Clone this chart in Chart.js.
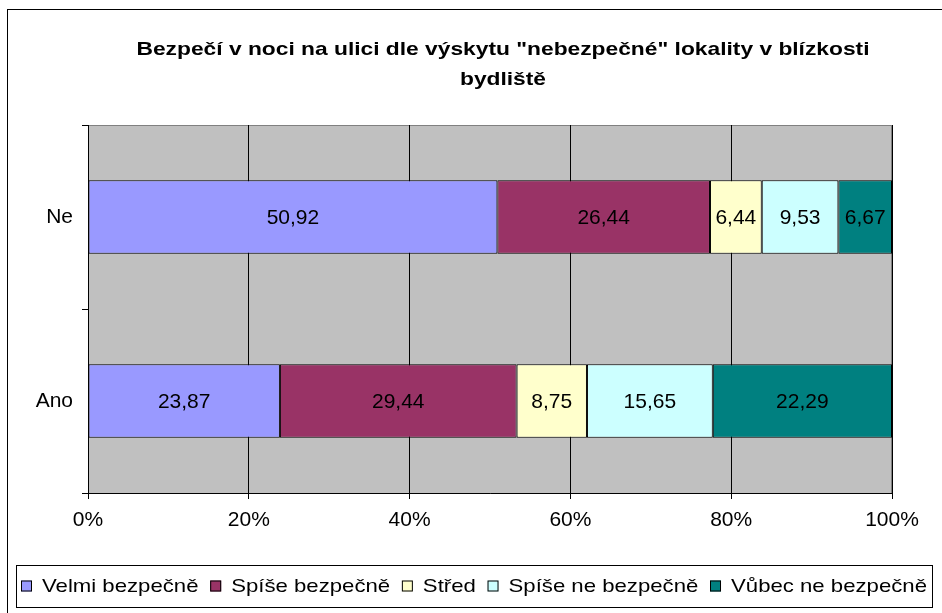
<!DOCTYPE html>
<html lang="cs">
<head>
    <meta charset="UTF-8">
    <title>Bezpečí v noci na ulici</title>
    <script src="https://cdn.jsdelivr.net/npm/chart.js"></script>
    <style>
        html, body { margin: 0; padding: 0; background: #ffffff; }
        #wrap { width: 942px; height: 613px; position: relative; }
    </style>
</head>
<body>
    <div id="wrap"><canvas id="myChart" width="942" height="613"></canvas></div>

    <script>
        // data
        const categories = ['Ne', 'Ano'];
        const seriesNames = ['Velmi bezpečně', 'Spíše bezpečně', 'Střed', 'Spíše ne bezpečně', 'Vůbec ne bezpečně'];
        const velmi = [50.92, 23.87];
        const spiseBezpecne = [26.44, 29.44];
        const stred = [6.44, 8.75];
        const spiseNe = [9.53, 15.65];
        const vubecNe = [6.67, 22.29];
        const xTicks = [0, 20, 40, 60, 80, 100];
        const titleLines = ['Bezpečí v noci na ulici dle výskytu "nebezpečné" lokality v blízkosti', 'bydliště'];

        const colors = ['#9999FF', '#993366', '#FFFFCC', '#CCFFFF', '#008080'];
        const FONT = '"Liberation Sans", Arial, sans-serif';

        const seriesValues = [velmi, spiseBezpecne, stred, spiseNe, vubecNe];

        // gray plot background + outer frame
        const backgroundPlugin = {
            id: 'plotBg',
            beforeDraw(chart) {
                const { ctx, chartArea: a } = chart;
                ctx.save();
                ctx.fillStyle = '#C0C0C0';
                ctx.fillRect(a.left, a.top, a.right - a.left, a.bottom - a.top);
                ctx.strokeStyle = '#808080';
                ctx.lineWidth = 1;
                ctx.strokeRect(a.left + 0.5, a.top + 0.5, a.right - a.left - 1, a.bottom - a.top);
                // outer chart border
                ctx.strokeStyle = '#000000';
                ctx.strokeRect(7.5, 9.5, chart.width + 10, chart.height + 10);
                ctx.restore();
            }
        };

        // value labels, title and legend box
        const extrasPlugin = {
            id: 'extras',
            afterDatasetsDraw(chart) {
                const ctx = chart.ctx;
                ctx.save();
                ctx.font = '21px ' + FONT;
                ctx.fillStyle = '#000000';
                ctx.textAlign = 'center';
                ctx.textBaseline = 'middle';
                chart.data.datasets.forEach((ds, i) => {
                    const meta = chart.getDatasetMeta(i);
                    meta.data.forEach((bar, j) => {
                        const left = Math.min(bar.x, bar.base);
                        const right = Math.max(bar.x, bar.base);
                        ctx.fillText(ds.data[j].toFixed(2).replace('.', ','), (left + right) / 2, bar.y + 1);
                    });
                });
                ctx.restore();
            },
            afterDraw(chart) {
                const ctx = chart.ctx;
                ctx.save();
                // title, stretched to the width of the original
                ctx.font = 'bold 19px ' + FONT;
                ctx.fillStyle = '#000000';
                ctx.textAlign = 'center';
                ctx.textBaseline = 'middle';
                const w0 = ctx.measureText(titleLines[0]).width;
                const tsx = 733 / w0;
                titleLines.forEach((t, i) => {
                    ctx.save();
                    ctx.translate(503, 50 + i * 30);
                    ctx.scale(tsx, 1);
                    ctx.fillText(t, 0, 0);
                    ctx.restore();
                });

                // legend
                const boxL = 16, boxR = 932, boxT = 565, boxB = 607;
                ctx.fillStyle = '#ffffff';
                ctx.fillRect(boxL, boxT, boxR - boxL, boxB - boxT);
                ctx.strokeStyle = '#000000';
                ctx.lineWidth = 1;
                ctx.strokeRect(boxL + 0.5, boxT + 0.5, boxR - boxL, boxB - boxT);

                ctx.font = '19px ' + FONT;
                ctx.textAlign = 'left';
                const sq = 11, gapSq = 7, gapItem = 10;
                const widths = seriesNames.map(n => ctx.measureText(n).width);
                const natural = widths.reduce((s, w) => s + w, 0) + seriesNames.length * (sq + gapSq) + (seriesNames.length - 1) * gapItem;
                const avail = boxR - boxL - 10;
                const sx = avail / natural;
                let x = boxL + 5;
                const cy = (boxT + boxB) / 2;
                seriesNames.forEach((n, i) => {
                    ctx.fillStyle = colors[i];
                    ctx.fillRect(x, cy - sq / 2, sq, sq);
                    ctx.strokeStyle = '#000000';
                    ctx.strokeRect(x + 0.5, cy - sq / 2 + 0.5, sq - 1, sq - 1);
                    x += (sq + gapSq) * sx;
                    ctx.fillStyle = '#000000';
                    ctx.save();
                    ctx.translate(x, cy + 1);
                    ctx.scale(sx, 1);
                    ctx.fillText(n, 0, 0);
                    ctx.restore();
                    x += (widths[i] + gapItem) * sx;
                });
                ctx.restore();
            }
        };

        const ctx = document.getElementById('myChart').getContext('2d');
        new Chart(ctx, {
            type: 'bar',
            data: {
                labels: categories,
                datasets: seriesNames.map((name, i) => ({
                    label: name,
                    data: seriesValues[i],
                    backgroundColor: colors[i],
                    borderColor: '#000000',
                    borderWidth: 1,
                    borderSkipped: false,
                    barPercentage: 0.4,
                    categoryPercentage: 1.0,
                })),
            },
            options: {
                indexAxis: 'y',
                responsive: false,
                animation: false,
                layout: { padding: { left: 0, right: 50, top: 125, bottom: 70 } },
                plugins: {
                    legend: { display: false },
                    title: { display: false },
                    tooltip: { enabled: false },
                },
                scales: {
                    x: {
                        stacked: true,
                        min: 0,
                        max: 100,
                        afterBuildTicks(axis) {
                            axis.ticks = xTicks.map(v => ({ value: v }));
                        },
                        afterFit(axis) { axis.height = 50; },
                        ticks: {
                            callback: v => v + '%',
                            font: { family: FONT, size: 21 },
                            color: '#000000',
                            padding: 9,
                            maxRotation: 0,
                        },
                        grid: {
                            color: '#000000',
                            lineWidth: 1,
                            tickLength: 6,
                            drawOnChartArea: true,
                        },
                        border: { color: '#000000', width: 1 },
                    },
                    y: {
                        stacked: true,
                        afterFit(axis) { axis.width = 88; },
                        ticks: {
                            font: { family: FONT, size: 21 },
                            color: '#000000',
                            padding: 9,
                        },
                        grid: {
                            offset: true,
                            drawOnChartArea: false,
                            color: '#000000',
                            tickLength: 6,
                        },
                        border: { color: '#000000', width: 1 },
                    },
                },
            },
            plugins: [backgroundPlugin, extrasPlugin],
        });
    </script>
</body>
</html>
